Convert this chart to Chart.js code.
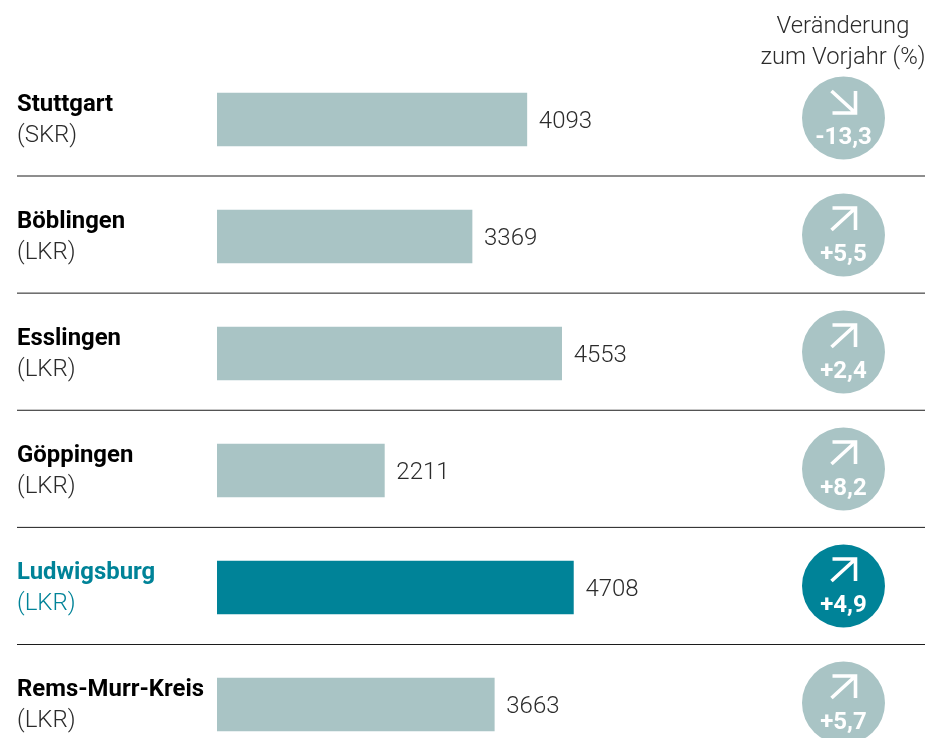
<!DOCTYPE html>
<html lang="de">
<head>
<meta charset="utf-8">
<title>Veränderung zum Vorjahr</title>
<script src="https://cdn.jsdelivr.net/npm/chart.js@4/dist/chart.umd.min.js"></script>
<style>
  html, body { margin: 0; padding: 0; background: #fff; overflow: hidden; height: 738px; }
  canvas { display: block; }
</style>
</head>
<body>
<canvas id="chartKreise" width="944" height="763"></canvas>
<script>
const kreise = ['Stuttgart', 'Böblingen', 'Esslingen', 'Göppingen', 'Ludwigsburg', 'Rems-Murr-Kreis'];
const typen = ['(SKR)', '(LKR)', '(LKR)', '(LKR)', '(LKR)', '(LKR)'];
const werte = [4093, 3369, 4553, 2211, 4708, 3663];
const veraenderung = [-13.3, 5.5, 2.4, 8.2, 4.9, 5.7];
const kopfzeilen = ['Veränderung', 'zum Vorjahr (%)'];
const markiert = 'Ludwigsburg';

const HELL = '#a9c4c5';
const TEAL = '#008398';

const formatProzent = (v) => (v > 0 ? '+' : '') + v.toFixed(1).replace('.', ',');

// Texte, Trennlinien und Kreise rechts
const zeilenPlugin = {
    id: 'zeilen',
    afterDatasetsDraw(chart) {
        const ctx = chart.ctx;
        const bars = chart.getDatasetMeta(0).data;
        ctx.save();

        ctx.textBaseline = 'alphabetic';
        ctx.textAlign = 'center';
        ctx.fillStyle = '#2b2b2b';
        ctx.font = '300 23.8px Roboto';
        ctx.fillText(kopfzeilen[0], 843, 33);
        ctx.fillText(kopfzeilen[1], 843, 64);

        bars.forEach((bar, i) => {
            const y = bar.y;
            const aktiv = kreise[i] === markiert;
            const farbe = aktiv ? TEAL : HELL;

            // Name und Typ
            ctx.textAlign = 'left';
            ctx.fillStyle = aktiv ? TEAL : '#000000';
            ctx.font = '700 23.9px Roboto';
            ctx.fillText(kreise[i], 17, y - 8.5);
            ctx.fillStyle = aktiv ? TEAL : '#2b2b2b';
            ctx.font = '300 24px Roboto';
            ctx.fillText(typen[i], 17, y + 22);

            // Wert neben dem Balken
            ctx.fillStyle = '#2b2b2b';
            ctx.font = '300 24px Roboto';
            ctx.fillText(String(werte[i]), bar.x + 12, y + 8.5);

            // Trennlinie
            if (i < bars.length - 1) {
                const linieY = y + 56.5 + i * 0.125;
                ctx.strokeStyle = '#1c1c1c';
                ctx.lineWidth = 1;
                ctx.beginPath();
                ctx.moveTo(17, linieY);
                ctx.lineTo(925, linieY);
                ctx.stroke();
            }

            // Kreis
            const cx = 843.5;
            const cy = y - 1.5;
            ctx.fillStyle = farbe;
            ctx.beginPath();
            ctx.arc(cx, cy, 41.5, 0, Math.PI * 2);
            ctx.fill();

            // Pfeil
            ctx.strokeStyle = '#ffffff';
            ctx.lineWidth = 3.6;
            ctx.beginPath();
            if (veraenderung[i] < 0) {
                ctx.moveTo(cx - 12, cy - 27);
                ctx.lineTo(cx + 12, cy - 5);
                ctx.moveTo(cx + 12, cy - 27);
                ctx.lineTo(cx + 12, cy - 5);
                ctx.lineTo(cx - 11, cy - 5);
            } else {
                ctx.moveTo(cx - 12, cy - 5);
                ctx.lineTo(cx + 12, cy - 27);
                ctx.moveTo(cx - 11, cy - 27);
                ctx.lineTo(cx + 12, cy - 27);
                ctx.lineTo(cx + 12, cy - 5);
            }
            ctx.stroke();

            // Prozentwert
            ctx.textAlign = 'center';
            ctx.fillStyle = '#ffffff';
            ctx.font = '700 24px Roboto';
            ctx.fillText(formatProzent(veraenderung[i]), cx, cy + 25.5);
        });
        ctx.restore();
    }
};

new Chart(document.getElementById('chartKreise').getContext('2d'), {
    type: 'bar',
    data: {
        labels: kreise,
        datasets: [{
            data: werte,
            backgroundColor: kreise.map(k => k === markiert ? TEAL : HELL),
            borderWidth: 0,
            barThickness: 53
        }]
    },
    options: {
        indexAxis: 'y',
        responsive: false,
        animation: false,
        layout: { padding: { left: 217, top: 61, right: 348.5, bottom: 0 } },
        plugins: { legend: { display: false }, tooltip: { enabled: false } },
        scales: {
            x: { display: false, min: 0, max: 5000 },
            y: { display: false }
        }
    },
    plugins: [zeilenPlugin]
});
</script>
</body>
</html>
